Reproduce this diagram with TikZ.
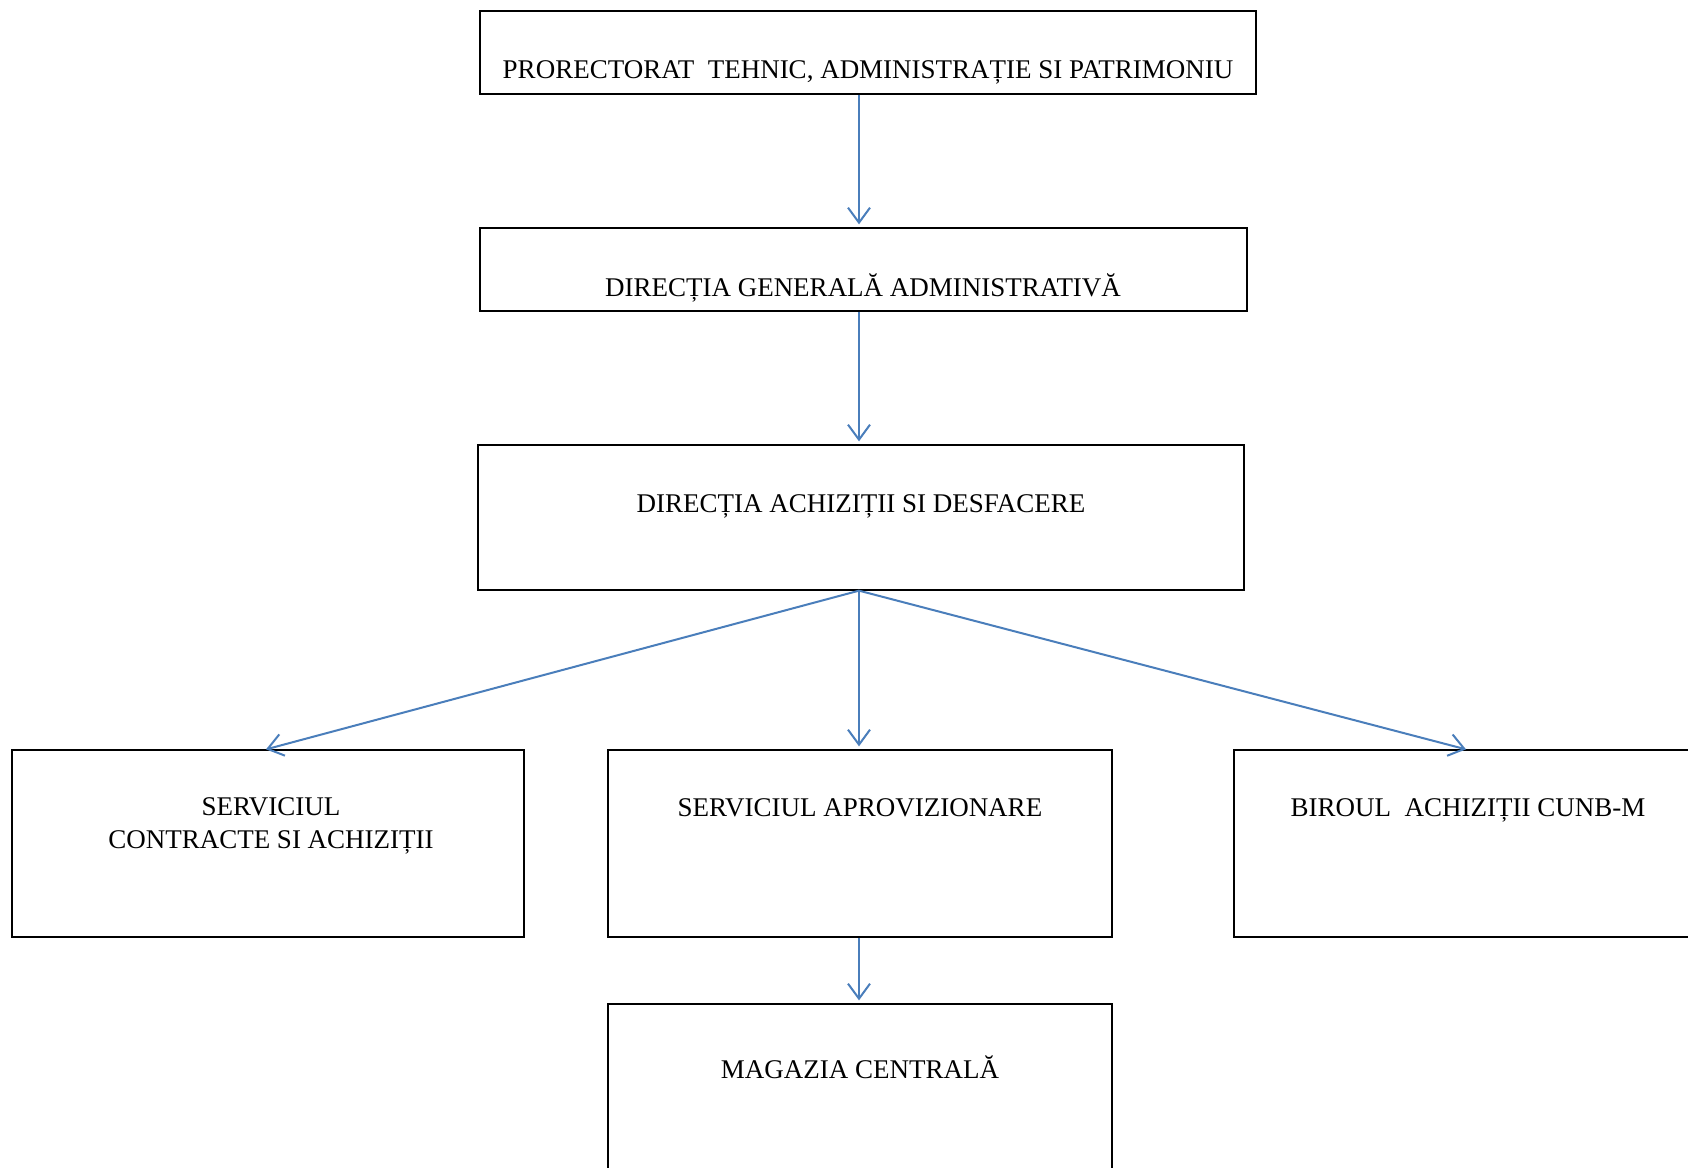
\documentclass[tikz,border=0pt]{standalone}
\usepackage{fontspec}
\setmainfont{Liberation Serif}
\usepackage{tikz}
\usetikzlibrary{arrows.meta,positioning}
\definecolor{linkblue}{HTML}{4A7EBB}

\begin{document}
\begin{tikzpicture}[x=1pt,y=-1pt,>={Straight Barb[length=15pt,width=22pt]},
    unitbox/.style={draw,line width=1.3pt,inner sep=0pt},
    boxtext/.style={anchor=base,inner sep=0pt,align=center,font=\fontsize{27}{32.5}\selectfont},
    link/.style={->,draw=linkblue,line width=2pt}]
  \clip (0,0) rectangle (1688,1167);
  \fill[white] (0,0) rectangle (1688,1167);

  % boxes
  \node[unitbox,minimum width=776pt,minimum height=83pt]  (pr) at (868,52.5)  {};
  \node[unitbox,minimum width=767pt,minimum height=83pt]  (ga) at (863.5,269.5) {};
  \node[unitbox,minimum width=766pt,minimum height=145pt] (da) at (861,517.5) {};
  \node[unitbox,minimum width=512pt,minimum height=187pt] (sc) at (268,843.5) {};
  \node[unitbox,minimum width=504pt,minimum height=187pt] (sa) at (860,843.5) {};
  \node[unitbox,minimum width=468pt,minimum height=187pt] (ba) at (1468,843.5) {};
  \node[unitbox,minimum width=504pt,minimum height=196pt] (mc) at (860,1102) {};

  % labels
  \node[boxtext] (prt) at (868,78)  {PRORECTORAT\ \ TEHNIC, ADMINISTRAȚIE SI PATRIMONIU};
  \node[boxtext] (gat) at (863,296) {DIRECȚIA GENERALĂ ADMINISTRATIVĂ};
  \node[boxtext] (dat) at (861,512) {DIRECȚIA ACHIZIȚII SI DESFACERE};
  \node[boxtext] (sct) at (271,848) {SERVICIUL\\CONTRACTE SI ACHIZIȚII};
  \node[boxtext] (sat) at (860,816) {SERVICIUL APROVIZIONARE};
  \node[boxtext] (bat) at (1468,816) {BIROUL\ \ ACHIZIȚII CUNB-M};
  \node[boxtext] (mct) at (860,1078) {MAGAZIA CENTRALĂ};

  % connectors
  \coordinate (spine) at (859,0);
  \draw[link,shorten >=3pt] (pr.south -| spine) -- (ga.north -| spine);
  \draw[link,shorten >=3pt] (ga.south -| spine) -- (da.north -| spine);
  \draw[link,shorten >=3pt] (da.south -| spine) -- (sa.north -| spine);
  \draw[link] (da.south -| spine) -- ([xshift=-2pt]sc.north);
  \draw[link] (da.south -| spine) -- ([xshift=-2pt]ba.north);
  \draw[link,shorten >=3pt] (sa.south -| spine) -- (mc.north -| spine);
\end{tikzpicture}
\end{document}
